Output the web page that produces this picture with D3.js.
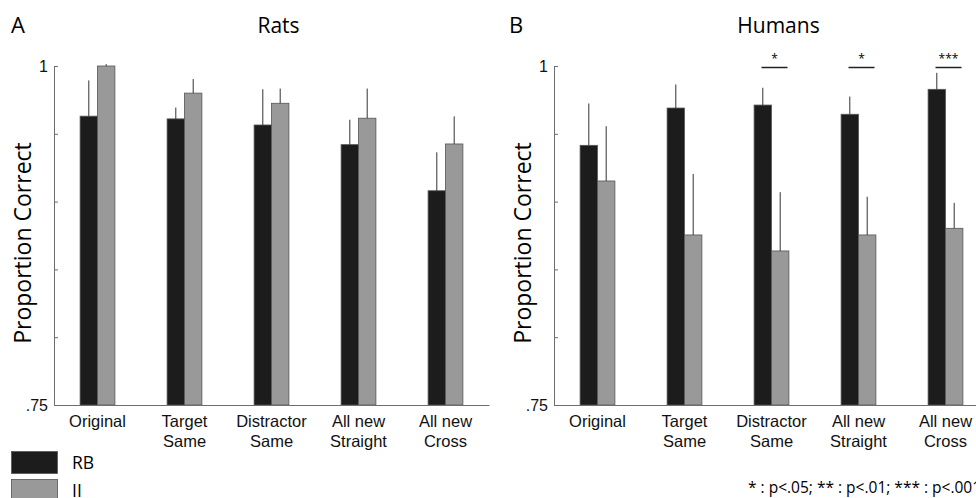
<!DOCTYPE html>
<html>
<head>
<meta charset="utf-8">
<script src="https://cdn.jsdelivr.net/npm/d3@7"></script>
<style>
  body { margin: 0; background: #fff; }
  svg { font-family: "Open Sans", sans-serif; }
</style>
</head>
<body>
<svg id="chart" width="976" height="498"></svg>
<script>
// categories (two-line labels)
var conditions = ["Original", "Target Same", "Distractor Same", "All new Straight", "All new Cross"];
var conditionLines = [["Original"], ["Target", "Same"], ["Distractor", "Same"], ["All new", "Straight"], ["All new", "Cross"]];
var groups = ["RB", "II"];

// rats
var ratsRB = [0.963, 0.961, 0.9565, 0.942, 0.908];
var ratsRBErr = [0.026, 0.008, 0.026, 0.018, 0.028];
var ratsII = [1.0, 0.980, 0.9725, 0.9615, 0.9425];
var ratsIIErr = [0.001, 0.010, 0.0105, 0.0215, 0.020];

// humans
var humansRB = [0.9415, 0.969, 0.9712, 0.9644, 0.9828];
var humansRBErr = [0.0305, 0.017, 0.0124, 0.0127, 0.0118];
var humansII = [0.9152, 0.8754, 0.8636, 0.8754, 0.8803];
var humansIIErr = [0.040, 0.0446, 0.043, 0.0278, 0.0184];
var humansSig = ["", "", "*", "*", "***"];

var yTicks = [0.75, 0.8, 0.85, 0.9, 0.95, 1];

var colors = { RB: "#1c1c1c", II: "#999999" };
var axisColor = "#6e6e6e";

var svg = d3.select("#chart");

var yScale = d3.scaleLinear().domain([0.75, 1]).range([405, 66]);

function drawPanel(opts) {
  var xScale = d3.scaleBand().domain(conditions).range([opts.x0, opts.x0 + 435]);
  var barW = xScale.bandwidth() * 0.2;
  var g = svg.append("g");

  // panel letter and title
  g.append("text")
    .attr("x", opts.letterX)
    .attr("y", 33)
    .attr("font-size", "22px")
    .text(opts.letter);
  g.append("text")
    .attr("x", xScale(conditions[2]) + xScale.bandwidth() / 2 + 7)
    .attr("y", 33)
    .attr("text-anchor", "middle")
    .attr("font-size", "21px")
    .text(opts.title);

  // y label
  g.append("text")
    .attr("transform", "translate(" + (opts.x0 - 23) + "," + 243 + ") rotate(-90)")
    .attr("text-anchor", "middle")
    .attr("font-size", "23px")
    .text("Proportion Correct");

  // y axis, ticks pointing inward
  var yAxis = g.append("g")
    .attr("transform", "translate(" + opts.x0 + ",0)")
    .call(d3.axisLeft(yScale)
      .tickValues(yTicks)
      .tickSize(-4)
      .tickSizeOuter(-4)
      .tickPadding(6)
      .tickFormat(function (d) {
        if (d == 1) return "1";
        if (d == 0.75) return ".75";
        return "";
      }));
  yAxis.selectAll("path, line").attr("stroke", axisColor);
  yAxis.selectAll("text").attr("font-size", "16px").attr("fill", "#111").attr("font-family", null);

  // bars
  var data = conditions.map(function (c, i) {
    return [
      { cond: c, group: "RB", value: opts.rb[i], err: opts.rbErr[i] },
      { cond: c, group: "II", value: opts.ii[i], err: opts.iiErr[i] }
    ];
  });
  var flat = [].concat.apply([], data);
  function barX(d) {
    var c = xScale(d.cond) + xScale.bandwidth() / 2;
    return d.group == "RB" ? c - barW : c;
  }

  g.selectAll(".bar")
    .data(flat)
    .enter()
    .append("rect")
    .attr("class", "bar")
    .attr("x", barX)
    .attr("y", function (d) { return yScale(d.value); })
    .attr("width", barW)
    .attr("height", function (d) { return yScale(0.75) - yScale(d.value); })
    .attr("fill", function (d) { return colors[d.group]; })
    .attr("stroke", "#555")
    .attr("stroke-width", 0.8);

  // upper error bars
  g.selectAll(".err")
    .data(flat)
    .enter()
    .append("line")
    .attr("class", "err")
    .attr("x1", function (d) { return barX(d) + barW / 2; })
    .attr("x2", function (d) { return barX(d) + barW / 2; })
    .attr("y1", function (d) { return yScale(d.value); })
    .attr("y2", function (d) { return yScale(d.value + d.err) - 0.5; })
    .attr("stroke", "#333")
    .attr("stroke-width", 1);

  // x axis
  var xAxis = g.append("g")
    .attr("transform", "translate(0," + yScale(0.75) + ")")
    .call(d3.axisBottom(xScale).tickSize(0).tickSizeOuter(0));
  xAxis.select("path").attr("stroke", axisColor).attr("stroke-width", 1.2);
  xAxis.selectAll(".tick text").each(function (d, i) {
    var t = d3.select(this).text(null).attr("dy", null).attr("y", null)
      .attr("font-size", "16.5px").attr("fill", "#111").attr("font-family", null);
    conditionLines[i].forEach(function (line, j) {
      t.append("tspan").attr("x", 0).attr("y", 22 + j * 20).text(line);
    });
  });

  // significance markers
  if (opts.sig) {
    opts.sig.forEach(function (s, i) {
      if (!s) return;
      var c = xScale(conditions[i]) + xScale.bandwidth() / 2;
      g.append("line")
        .attr("x1", c - 10)
        .attr("x2", c + 16)
        .attr("y1", 67.5)
        .attr("y2", 67.5)
        .attr("stroke", "#222")
        .attr("stroke-width", 1.5);
      g.append("text")
        .attr("x", c + 3)
        .attr("y", 63)
        .attr("text-anchor", "middle")
        .attr("font-size", "12px")
        .text(s);
    });
  }
}

drawPanel({ x0: 54, letter: "A", letterX: 11, title: "Rats", rb: ratsRB, rbErr: ratsRBErr, ii: ratsII, iiErr: ratsIIErr });
drawPanel({ x0: 554, letter: "B", letterX: 509, title: "Humans", rb: humansRB, rbErr: humansRBErr, ii: humansII, iiErr: humansIIErr, sig: humansSig });

// legend
var legend = svg.append("g").attr("class", "legend");
legend.selectAll("rect")
  .data(groups)
  .enter()
  .append("rect")
  .attr("x", 11.5)
  .attr("y", function (d, i) { return 451.5 + i * 28; })
  .attr("width", 46)
  .attr("height", function (d, i) { return i == 0 ? 22 : 19; })
  .attr("fill", function (d) { return colors[d]; })
  .attr("stroke", "#555")
  .attr("stroke-width", 0.8);
legend.selectAll("text")
  .data(groups)
  .enter()
  .append("text")
  .attr("x", 72)
  .attr("y", function (d, i) { return 469 + i * 28; })
  .attr("font-size", "17.5px")
  .text(function (d) { return d; });

// footnote
svg.append("text")
  .attr("x", 748)
  .attr("y", 493)
  .attr("font-size", "15.5px")
  .attr("xml:space", "preserve")
  .text("* : p<.05; ** : p<.01; *** : p<.001");
</script>
</body>
</html>
